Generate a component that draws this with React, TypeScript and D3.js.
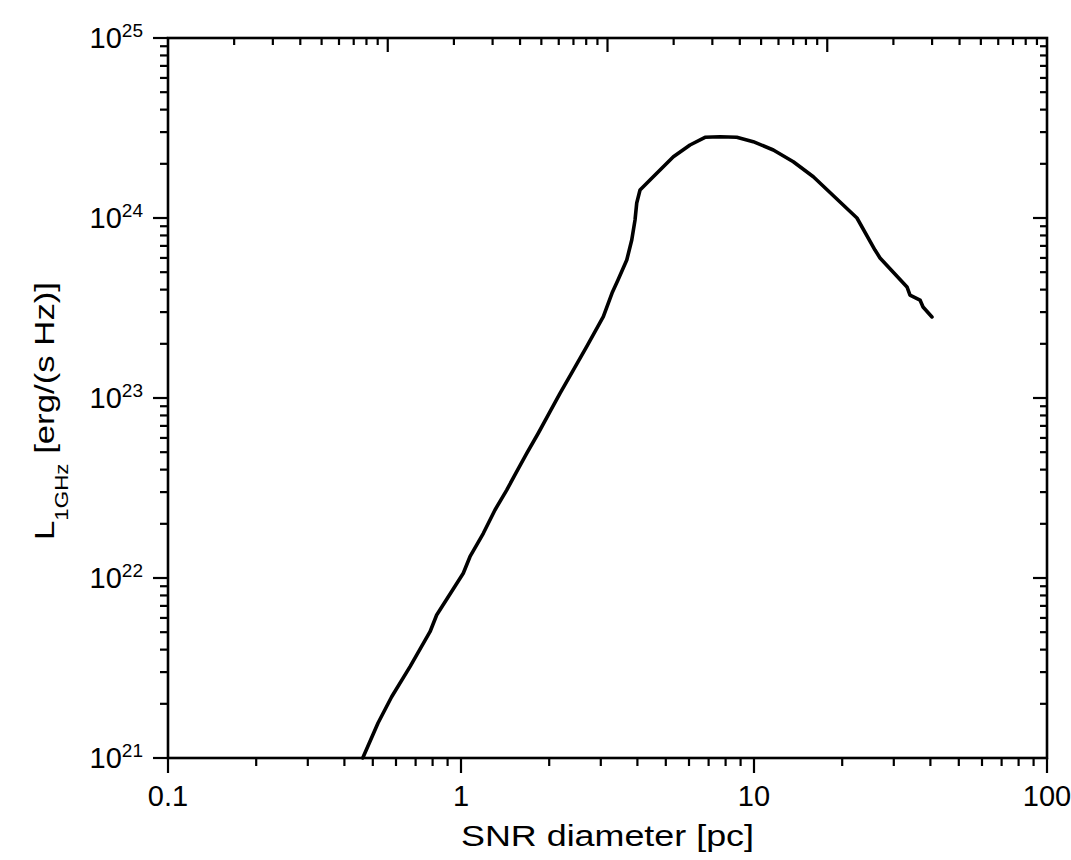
import React from "react";
import * as d3 from "d3";

// SNR diameter [pc]
const diameter = [
  0.462, 0.521, 0.58, 0.67, 0.784, 0.826, 1.018, 1.073, 1.192, 1.306, 1.432, 1.549, 1.676,
  1.835, 2.013, 2.177, 2.417, 2.685, 3.06, 3.277, 3.434, 3.679, 3.826, 3.926, 3.979, 4.083,
  4.416, 5.306, 6.048, 6.805, 7.655, 8.73, 9.94, 11.64, 13.62, 15.94, 19.66, 22.46, 25.88,
  26.92, 33.28, 34.07, 36.87, 37.75, 40.5,
];
// L_1GHz [erg/(s Hz)]
const luminosity = [
  1.0e21, 1.565e21, 2.19e21, 3.22e21, 5.03e21, 6.23e21, 1.062e22, 1.313e22, 1.772e22, 2.387e22,
  3.08e22, 3.9e22, 4.93e22, 6.37e22, 8.39e22, 1.062e23, 1.43e23, 1.93e23, 2.83e23, 3.83e23,
  4.52e23, 5.84e23, 7.55e23, 9.75e23, 1.211e24, 1.431e24, 1.626e24, 2.19e24, 2.544e24, 2.807e24,
  2.83e24, 2.807e24, 2.654e24, 2.387e24, 2.055e24, 1.696e24, 1.227e24, 1.0e24, 6.64e23, 6.0e23,
  4.14e23, 3.73e23, 3.5e23, 3.2e23, 2.82e23,
];

const xTickLabels = ["0.1", "1", "10", "100"];
const yTickExponents = ["21", "22", "23", "24", "25"];

const W = 1071;
const H = 860;
const L = 168;
const R = 1047;
const T = 38;
const B = 758;

export default function App() {
  const x = d3.scaleLog().domain([0.1, 100]).range([L, R]);
  const y = d3.scaleLog().domain([1e21, 1e25]).range([B, T]);
  const xTop = d3.scaleLog().domain([1, 1e4]).range([L, R]);

  const isMajor = (v: number) => Math.abs(Math.log10(v) - Math.round(Math.log10(v))) < 1e-9;

  const data = diameter.map((d, i) => ({ d, l: luminosity[i] }));
  const line = d3
    .line<{ d: number; l: number }>()
    .x((p) => x(p.d))
    .y((p) => y(p.l));

  const xt = x.ticks();
  const yt = y.ticks();
  const tt = xTop.ticks();

  const font = "'Liberation Sans', Arial, Helvetica, sans-serif";
  const sw = 2.6;
  const tickW = 2.2;

  return (
    <svg
      width={W}
      height={H}
      style={{ position: "absolute", left: 0, top: 0, background: "#fff" }}
      fontFamily={font}
    >
      <rect x={0} y={0} width={W} height={H} fill="#fff" />
      {/* curve */}
      <path
        d={line(data) || ""}
        fill="none"
        stroke="#000"
        strokeWidth={3.6}
        strokeLinejoin="round"
        strokeLinecap="round"
      />
      {/* frame */}
      <rect x={L} y={T} width={R - L} height={B - T} fill="none" stroke="#000" strokeWidth={sw} />
      {/* bottom ticks (outward) */}
      {xt.map((v, i) => (
        <line
          key={"b" + i}
          x1={x(v)}
          x2={x(v)}
          y1={B}
          y2={B + (isMajor(v) ? 15 : 8)}
          stroke="#000"
          strokeWidth={tickW}
        />
      ))}
      {/* top ticks (inward, separate 4-decade scale) */}
      {tt.map((v, i) =>
        xTop(v) <= L + 1 || xTop(v) >= R - 1 ? null : (
          <line
            key={"t" + i}
            x1={xTop(v)}
            x2={xTop(v)}
            y1={T}
            y2={T + (isMajor(v) ? 14 : 7)}
            stroke="#000"
            strokeWidth={tickW}
          />
        )
      )}
      {/* left ticks (outward) */}
      {yt.map((v, i) => (
        <line
          key={"l" + i}
          x1={L}
          x2={L - (isMajor(v) ? 15 : 8)}
          y1={y(v)}
          y2={y(v)}
          stroke="#000"
          strokeWidth={tickW}
        />
      ))}
      {/* right ticks (inward) */}
      {yt.map((v, i) =>
        y(v) <= T + 1 || y(v) >= B - 1 ? null : (
          <line
            key={"r" + i}
            x1={R}
            x2={R - (isMajor(v) ? 14 : 7)}
            y1={y(v)}
            y2={y(v)}
            stroke="#000"
            strokeWidth={tickW}
          />
        )
      )}
      {/* x tick labels */}
      {xTickLabels.map((s) => (
        <text key={s} x={x(+s)} y={806} fontSize={29} textAnchor="middle" fill="#000">
          {s}
        </text>
      ))}
      {/* y tick labels */}
      {yTickExponents.map((e) => (
        <text key={e} x={143} y={y(Math.pow(10, +e)) + 10} fontSize={29} textAnchor="end" fill="#000">
          <tspan>10</tspan>
          <tspan dy={-11} fontSize={19}>
            {e}
          </tspan>
        </text>
      ))}
      {/* x title */}
      <text
        x={(L + R) / 2}
        y={846}
        fontSize={30}
        textAnchor="middle"
        textLength={293}
        lengthAdjust="spacingAndGlyphs"
        fill="#000"
      >
        SNR diameter [pc]
      </text>
      {/* y title */}
      <text transform="translate(54,411) rotate(-90)" fontSize={28} textAnchor="middle" fill="#000" textLength={258} lengthAdjust="spacingAndGlyphs">
        <tspan>L</tspan>
        <tspan dy={14} fontSize={18}>
          1GHz
        </tspan>
        <tspan dy={-14}> [erg/(s Hz)]</tspan>
      </text>
    </svg>
  );
}
